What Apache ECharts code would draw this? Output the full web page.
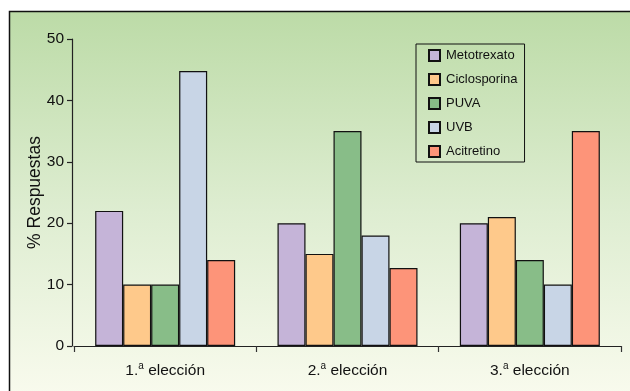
<!DOCTYPE html>
<html>
<head>
<meta charset="utf-8">
<script src="https://cdn.jsdelivr.net/npm/echarts@6/dist/echarts.min.js"></script>
<style>
  html, body { margin: 0; padding: 0; background: #ffffff; }
  #chart { width: 630px; height: 391px; }
</style>
</head>
<body>
<div id="chart"></div>
<script>
// Rounds of treatment choice (x-axis categories)
const categories = ['1.', '2.', '3.'];
const categorySuffix = ' elección';

// Treatments and their share of answers (%) per round
const seriesNames = ['Metotrexato', 'Ciclosporina', 'PUVA', 'UVB', 'Acitretino'];
const metotrexato = [22, 20, 20];
const ciclosporina = [10, 15, 21];
const puva = [10, 35, 14];
const uvb = [44.8, 18, 10];
const acitretino = [14, 12.7, 35];
const seriesValues = [metotrexato, ciclosporina, puva, uvb, acitretino];

const seriesColors = ['#c5b4d8', '#fec98b', '#88bd88', '#c8d5e6', '#fd9479'];

// Y-axis range and step (ticks 0, 10, ... 50)
const yMin = 0;
const yMax = 50;
const yStep = 10;

const FONT = "'Liberation Sans', Arial, Helvetica, sans-serif";

const chart = echarts.init(document.getElementById('chart'), null, { renderer: 'canvas' });

const option = {
  animation: false,
  backgroundColor: '#ffffff',
  textStyle: { fontFamily: FONT },
  graphic: [{
    type: 'rect',
    z: -10,
    silent: true,
    shape: { x: 9.5, y: 11.5, width: 640, height: 400 },
    style: {
      fill: new echarts.graphic.LinearGradient(0, 0, 0, 1, [
        { offset: 0, color: '#bcdba7' },
        { offset: 0.5, color: '#deedd1' },
        { offset: 1, color: '#fbfcf0' }
      ]),
      stroke: '#111111',
      lineWidth: 1.5
    }
  }],
  grid: { left: 74, right: 9, top: 39, bottom: 45 },
  legend: {
    orient: 'vertical',
    left: 416,
    top: 44,
    data: seriesNames,
    icon: 'rect',
    itemWidth: 11,
    itemHeight: 11,
    itemGap: 11,
    padding: [5, 7, 4, 12],
    borderColor: '#111111',
    borderWidth: 1,
    backgroundColor: 'transparent',
    selectedMode: false,
    textStyle: { fontFamily: FONT, fontSize: 13, color: '#111111', padding: [0, 0, 0, 1] }
  },
  xAxis: {
    type: 'category',
    data: categories,
    axisLine: { lineStyle: { color: '#222222', width: 1.2 } },
    axisTick: { show: true, length: 6, lineStyle: { color: '#333333', width: 1.2 } },
    axisLabel: {
      margin: 15,
      formatter: function (v) { return v + '{sup|a}' + categorySuffix; },
      fontFamily: FONT,
      fontSize: 15.5,
      color: '#111111',
      rich: {
        sup: { fontSize: 10, fontFamily: FONT, color: '#111111', padding: [0, 0, 9, 0] }
      }
    }
  },
  yAxis: {
    type: 'value',
    min: yMin,
    max: yMax,
    interval: yStep,
    offset: 2,
    name: '% Respuestas',
    nameLocation: 'middle',
    nameGap: 28,
    nameMoveOverlap: false,
    nameTextStyle: { fontFamily: FONT, fontSize: 17.5, color: '#111111' },
    axisLine: { show: true, lineStyle: { color: '#222222', width: 1.2 } },
    axisTick: { show: true, inside: false, length: 5, lineStyle: { color: '#222222', width: 1.2 } },
    axisLabel: {
      margin: 8,
      fontFamily: FONT,
      fontSize: 15.5,
      color: '#111111'
    },
    splitLine: { show: false }
  },
  series: seriesNames.map(function (name, i) {
    return {
      name: name,
      type: 'bar',
      data: seriesValues[i],
      barWidth: 28,
      barGap: '0%',
      itemStyle: { color: seriesColors[i], borderColor: '#111111', borderWidth: 1.2 }
    };
  })
};

chart.setOption(option);
</script>
</body>
</html>
